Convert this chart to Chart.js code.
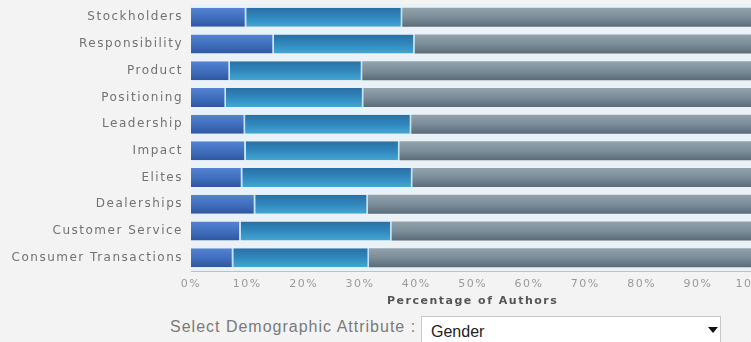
<!DOCTYPE html>
<html>
<head>
<meta charset="utf-8">
<script src="https://cdn.jsdelivr.net/npm/chart.js@4.4.1/dist/chart.umd.min.js"></script>
<style>
  html, body { margin: 0; padding: 0; background: #f3f3f3; overflow: hidden; }
  #wrap { position: relative; width: 751px; height: 342px; overflow: hidden; }
  #authorsChart { position: absolute; left: 0; top: 0; }
  .picker-label {
    position: absolute; left: 170px; top: 318px; letter-spacing: 1px;
    font-family: "Liberation Sans", Arial, sans-serif; font-size: 16px; color: #7a7a7a;
  }
  .picker-box {
    position: absolute; left: 421px; top: 316px; width: 298px; height: 34px;
    background: #fff; border: 1px solid #c8c8c8;
    font-family: "Liberation Sans", Arial, sans-serif; font-size: 16px; color: #222;
  }
  .picker-box span { position: absolute; left: 9px; top: 6px; }
  .picker-box i {
    position: absolute; left: 286px; top: 10px; width: 0; height: 0;
    border-left: 5px solid transparent; border-right: 5px solid transparent; border-top: 6px solid #111;
  }
</style>
</head>
<body>
<div id="wrap">
  <canvas id="authorsChart"></canvas>
  <div class="picker-label">Select Demographic Attribute :</div>
  <div class="picker-box"><span>Gender</span><i></i></div>
</div>
<script>
const categories = [
  "Stockholders", "Responsibility", "Product", "Positioning", "Leadership",
  "Impact", "Elites", "Dealerships", "Customer Service", "Consumer Transactions"
];
const femaleShare  = [9.8, 14.7, 6.9, 6.2, 9.6, 9.7, 9.1, 11.4, 8.8, 7.5];
const maleShare    = [27.7, 25.0, 23.5, 24.4, 29.5, 27.3, 30.2, 20.0, 26.8, 24.1];
const unknownShare = [62.5, 60.3, 69.6, 69.4, 60.9, 63.0, 60.7, 68.6, 64.4, 68.4];
const xTickStep = 10;

const BAR_FRACTION = 0.71;

// vertical gradient per bar, built from the bar's own row on the y scale
function barGradient(stops) {
  const fallback = stops[1];
  return function (context) {
    const chart = context.chart;
    const y = chart.scales.y;
    if (!y || context.type !== "data") return fallback;
    const center = y.getPixelForValue(context.dataIndex);
    const half = (y.height / categories.length) * BAR_FRACTION / 2;
    if (!isFinite(center) || !isFinite(half) || half <= 0) return fallback;
    const g = chart.ctx.createLinearGradient(0, center - half, 0, center + half);
    stops.forEach((c, i) => g.addColorStop(i / (stops.length - 1), c));
    return g;
  };
}

// widely tracked labels, set on the base context state so save/restore keeps it
const letterSpacing = {
  id: "letterSpacing",
  beforeLayout(chart) { chart.ctx.letterSpacing = "1.5px"; },
  beforeDraw(chart) { chart.ctx.letterSpacing = "1.5px"; }
};

const plotBackground = {
  id: "plotBackground",
  beforeDraw(chart) {
    const { ctx, chartArea } = chart;
    ctx.save();
    ctx.fillStyle = "#eaf2f8";
    ctx.fillRect(chartArea.left, chartArea.top, chartArea.right - chartArea.left, chartArea.bottom - chartArea.top);
    ctx.restore();
  }
};

const canvas = document.getElementById("authorsChart");
canvas.width = 780;
canvas.height = 312;

new Chart(canvas.getContext("2d"), {
  type: "bar",
  data: {
    labels: categories,
    datasets: [
      {
        label: "Female",
        data: femaleShare,
        backgroundColor: barGradient(["#5583d2", "#416fc0", "#2f579f"]),
        borderColor: "#c4e4f6",
        borderWidth: { top: 0, bottom: 0, left: 0, right: 1.5 },
        borderSkipped: false
      },
      {
        label: "Male",
        data: maleShare,
        backgroundColor: barGradient(["#2a6fa5", "#3088bd", "#43a6d3"]),
        borderColor: "#c4e4f6",
        borderWidth: { top: 0, bottom: 0, left: 0, right: 1.5 },
        borderSkipped: false
      },
      {
        label: "Unknown",
        data: unknownShare,
        backgroundColor: barGradient(["#93a3ad", "#7b8d98", "#5a6c77"]),
        borderWidth: 0
      }
    ]
  },
  options: {
    indexAxis: "y",
    responsive: false,
    animation: false,
    layout: { padding: { top: 4, right: 23, bottom: 0, left: 0 } },
    datasets: { bar: { barPercentage: BAR_FRACTION, categoryPercentage: 1 } },
    scales: {
      x: {
        stacked: true,
        min: 0,
        max: 100,
        grid: { display: false, drawTicks: false },
        border: { display: true, color: "#b7c3cb", width: 1 },
        ticks: {
          stepSize: xTickStep,
          padding: 7,
          color: "#9a9a9a",
          font: { family: "DejaVu Sans", size: 11 },
          callback: (v) => v + "%"
        },
        title: {
          display: true,
          text: "Percentage of Authors",
          color: "#555",
          padding: { top: 0, bottom: 4 },
          font: { family: "DejaVu Sans", size: 11, weight: "bold" }
        },
        afterFit: (scale) => { scale.height = 41; }
      },
      y: {
        stacked: true,
        grid: { display: false, drawTicks: false },
        border: { display: false },
        ticks: {
          padding: 8,
          color: "#727272",
          font: { family: "DejaVu Sans", size: 12 }
        },
        afterFit: (scale) => {
          scale.width = 191;
          scale.paddingTop = 0;
          scale.paddingBottom = 0;
        }
      }
    },
    plugins: {
      legend: { display: false },
      tooltip: { enabled: false }
    }
  },
  plugins: [letterSpacing, plotBackground]
});
</script>
</body>
</html>
